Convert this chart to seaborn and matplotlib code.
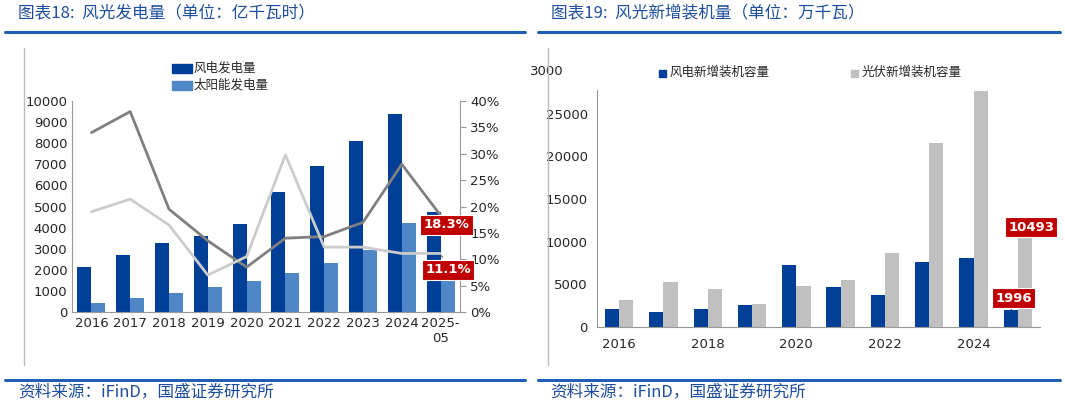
import numpy as np
import pandas as pd
import seaborn as sns
import matplotlib.pyplot as plt
from matplotlib.lines import Line2D

sns.set_style("white")
plt.rcParams['font.family'] = ['DejaVu Sans', 'Noto Sans CJK SC']

# left chart data
years_l = ['2016', '2017', '2018', '2019', '2020', '2021', '2022', '2023', '2024', '2025-\n05']
wind_gen = [2150, 2720, 3260, 3600, 4170, 5680, 6900, 8120, 9400, 4750]
solar_gen = [410, 660, 920, 1190, 1450, 1860, 2310, 2960, 4220, 1800]
wind_growth = [34.0, 38.0, 19.5, 13.5, 8.5, 14.0, 14.3, 17.0, 28.0, 18.3]
solar_growth = [19.0, 21.4, 16.5, 7.0, 10.5, 29.8, 12.3, 12.3, 11.1, 11.1]

# right chart data
years_r = ['2016', '2017', '2018', '2019', '2020', '2021', '2022', '2023', '2024', '2025']
wind_new = [2100, 1750, 2150, 2600, 7250, 4750, 3750, 7600, 8050, 1996]
solar_new = [3200, 5300, 4450, 2700, 4800, 5500, 8700, 21600, 27700, 10493]

DARK = '#003f98'
MID = '#4f86c6'
GREY = '#c0c0c0'
RED = '#c00000'
TITLE = '#1f4e9e'

fig = plt.figure(figsize=(10.65, 4.05), dpi=100)

# frame lines
for x0, x1 in [(0.005, 0.493), (0.505, 0.995)]:
    fig.add_artist(Line2D([x0, x1], [1 - 32 / 405] * 2, color='#1f5fb4', lw=2.2))
    fig.add_artist(Line2D([x0, x1], [1 - 380 / 405] * 2, color='#1f5fb4', lw=2.2))
fig.add_artist(Line2D([24 / 1065] * 2, [1 - 48 / 405, 1 - 365 / 405], color='#bbbbbb', lw=1))
fig.add_artist(Line2D([548 / 1065] * 2, [1 - 48 / 405, 1 - 365 / 405], color='#bbbbbb', lw=1))

cjk = ['Noto Sans CJK SC', 'DejaVu Sans']
for xt, txt in [(0.017, '图表18:  风光发电量（单位：亿千瓦时）'),
                (0.517, '图表19:  风光新增装机量（单位：万千瓦）')]:
    fig.text(xt, 1 - 14 / 405, txt, family=cjk, fontsize=12, color=TITLE, style='italic', va='center')
    fig.text(xt, 1 - 392 / 405, '资料来源：iFinD，国盛证券研究所', family=cjk, fontsize=12,
             color=TITLE, style='italic', va='center')

# ---- left chart
ax = fig.add_axes([72 / 1065, 1 - 312 / 405, 388 / 1065, 211 / 405])
dl = pd.DataFrame({'year': years_l * 2,
                   'val': wind_gen + solar_gen,
                   's': ['风电发电量'] * 10 + ['太阳能发电量'] * 10})
sns.barplot(data=dl, x='year', y='val', hue='s', palette=[DARK, MID], ax=ax,
            width=0.72, gap=0, saturation=1, legend=False, linewidth=0)
ax.set_ylim(0, 10000)
ax.set_yticks(range(0, 10001, 1000))
ax.set_xlabel('')
ax.set_ylabel('')
for s in ['top', 'right']:
    ax.spines[s].set_visible(False)
ax.spines['left'].set_color('#999999')
ax.spines['bottom'].set_color('#999999')
ax.tick_params(labelsize=9.5, length=0)
ax.set_xticks(np.arange(-0.5, 10, 1), minor=True)
ax.tick_params(which='minor', length=4, color='#999999', direction='out')

ax2 = ax.twinx()
x = np.arange(len(years_l))
ax2.plot(x, wind_growth, color='#808080', lw=2)
ax2.plot(x, solar_growth, color='#cccccc', lw=2)
ax2.set_ylim(0, 40)
ax2.set_yticks(range(0, 41, 5))
ax2.set_yticklabels([f'{v}%' for v in range(0, 41, 5)])
ax2.tick_params(labelsize=9.5, length=4, color='#999999')
for s in ['top', 'left', 'bottom']:
    ax2.spines[s].set_visible(False)
ax2.spines['right'].set_color('#999999')
ax2.set_xlim(-0.5, 9.5)
bb = dict(boxstyle='square,pad=0.25', fc=RED, ec='white', lw=0.8)
ax2.annotate(f'{wind_growth[-1]}%', xy=(9, wind_growth[-1]), xytext=(9.15, 16.5), fontsize=9.5,
             color='white', fontweight='bold', ha='center', va='center', bbox=bb)
ax2.annotate(f'{solar_growth[-1]}%', xy=(9, solar_growth[-1]), xytext=(9.2, 8.0), fontsize=9.5,
             color='white', fontweight='bold', ha='center', va='center', bbox=bb,
             arrowprops=dict(arrowstyle='-', color='#333333', lw=0.8))
fig.patches.extend([plt.Rectangle((172 / 1065, 1 - 73 / 405), 20 / 1065, 9 / 405, color=DARK, transform=fig.transFigure),
                    plt.Rectangle((172 / 1065, 1 - 90 / 405), 20 / 1065, 9 / 405, color=MID, transform=fig.transFigure)])
fig.text(194 / 1065, 1 - 68 / 405, '风电发电量', family=cjk, fontsize=9, va='center')
fig.text(194 / 1065, 1 - 85 / 405, '太阳能发电量', family=cjk, fontsize=9, va='center')

# ---- right chart
bx = fig.add_axes([597 / 1065, 1 - 327 / 405, 443 / 1065, 237 / 405])
dr = pd.DataFrame({'year': years_r * 2,
                   'val': wind_new + solar_new,
                   's': ['风电新增装机容量'] * 10 + ['光伏新增装机容量'] * 10})
sns.barplot(data=dr, x='year', y='val', hue='s', palette=[DARK, GREY], ax=bx,
            width=0.64, gap=0, saturation=1, legend=False, linewidth=0)
bx.set_ylim(0, 27800)
bx.set_yticks(range(0, 25001, 5000))
bx.set_xlim(-0.5, 9.5)
bx.set_xticks(range(0, 10, 2))
bx.set_xticklabels(years_r[::2])
bx.set_xlabel('')
bx.set_ylabel('')
for s in ['top', 'right']:
    bx.spines[s].set_visible(False)
bx.spines['left'].set_color('#999999')
bx.spines['bottom'].set_color('#999999')
bx.tick_params(labelsize=9.5, length=3, color='#999999')
bx.tick_params(axis='x', length=0, pad=8)
bx.set_xticks(np.arange(-0.5, 10, 1), minor=True)
bx.tick_params(which='minor', length=4, color='#999999', direction='in')
bx.text(-0.075, 30000, '3000', transform=bx.get_yaxis_transform(), fontsize=9.5,
        ha='right', va='center', clip_on=False)
bx.annotate(str(wind_new[-1]), xy=(8.85, wind_new[-1]), xytext=(8.9, 3400), fontsize=9.5,
            color='white', fontweight='bold', ha='center', va='center', bbox=bb,
            arrowprops=dict(arrowstyle='-', color='#333333', lw=0.8))
bx.text(9.3, 11700, str(solar_new[-1]), fontsize=9.5, color='white', fontweight='bold',
        ha='center', va='center', bbox=bb)
fig.patches.extend([plt.Rectangle((659 / 1065, 1 - 77 / 405), 7 / 1065, 7 / 405, color=DARK, transform=fig.transFigure),
                    plt.Rectangle((851 / 1065, 1 - 77 / 405), 7 / 1065, 7 / 405, color=GREY, transform=fig.transFigure)])
fig.text(670 / 1065, 1 - 72 / 405, '风电新增装机容量', family=cjk, fontsize=9, va='center')
fig.text(862 / 1065, 1 - 72 / 405, '光伏新增装机容量', family=cjk, fontsize=9, va='center')

fig.savefig('out.png', dpi=100)
